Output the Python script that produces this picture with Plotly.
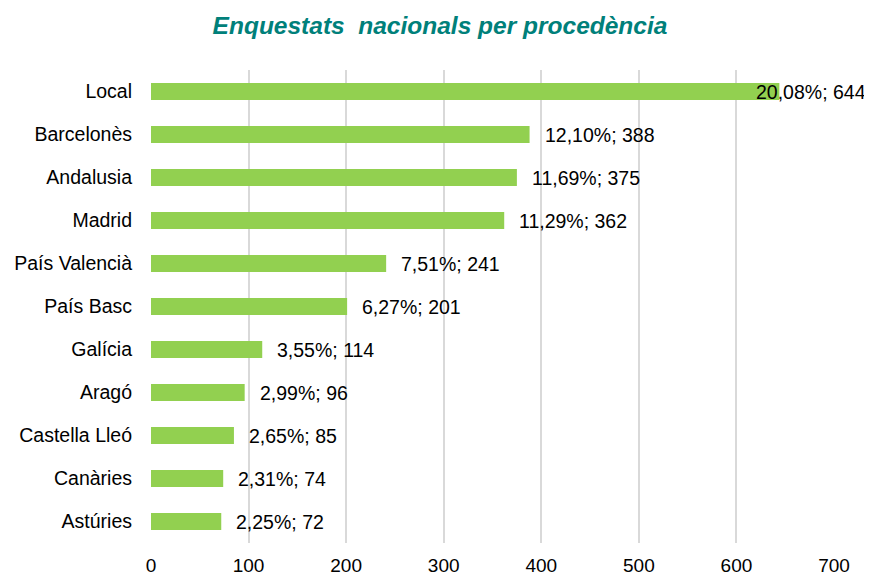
import plotly.graph_objects as go

categories = ["Local", "Barcelonès", "Andalusia", "Madrid", "País Valencià", "País Basc",
              "Galícia", "Aragó", "Castella Lleó", "Canàries", "Astúries"]
counts = [644, 388, 375, 362, 241, 201, 114, 96, 85, 74, 72]
percents = ["20,08%", "12,10%", "11,69%", "11,29%", "7,51%", "6,27%",
            "3,55%", "2,99%", "2,65%", "2,31%", "2,25%"]
x_ticks = [0, 100, 200, 300, 400, 500, 600, 700]

font_family = "Liberation Sans, Arial, sans-serif"
FS = 19.5

fig = go.Figure()
fig.add_trace(go.Bar(
    y=categories, x=counts, orientation="h",
    marker=dict(color="#92D050", line=dict(width=0)),
    width=0.4, hoverinfo="skip",
))

annotations = []
for c, v, p in zip(categories, counts, percents):
    if v > 600:
        annotations.append(dict(x=v, y=c, xref="x", yref="y", text=f"{p}; {v}",
                                showarrow=False, xanchor="right", xshift=89,
                                font=dict(size=FS, color="#000000", family=font_family)))
    else:
        annotations.append(dict(x=v, y=c, xref="x", yref="y", text=f"{p}; {v}",
                                showarrow=False, xanchor="left", xshift=13,
                                font=dict(size=FS, color="#000000", family=font_family)))

fig.update_layout(
    width=864, height=569,
    margin=dict(l=143, r=38, t=62, b=34, autoexpand=False),
    paper_bgcolor="white", plot_bgcolor="white",
    showlegend=False,
    bargap=0.6,
    title=dict(text="<b><i>Enquestats&nbsp; nacionals per procedència</i></b>",
               x=0.5, xanchor="center", y=0.97, yanchor="middle",
               font=dict(size=24.5, color="#00807A", family=font_family)),
    xaxis=dict(range=[0, 700], tickvals=x_ticks, showgrid=True, gridcolor="#D9D9D9",
               gridwidth=2, zeroline=False, showline=False, ticks="",
               ticklabelstandoff=9,
               tickfont=dict(size=19, color="#000000", family=font_family)),
    yaxis=dict(autorange="reversed", showgrid=False, zeroline=False, showline=False,
               ticks="", ticklabelstandoff=18,
               tickfont=dict(size=FS, color="#000000", family=font_family)),
    annotations=annotations,
)

fig.write_html("out.html")
